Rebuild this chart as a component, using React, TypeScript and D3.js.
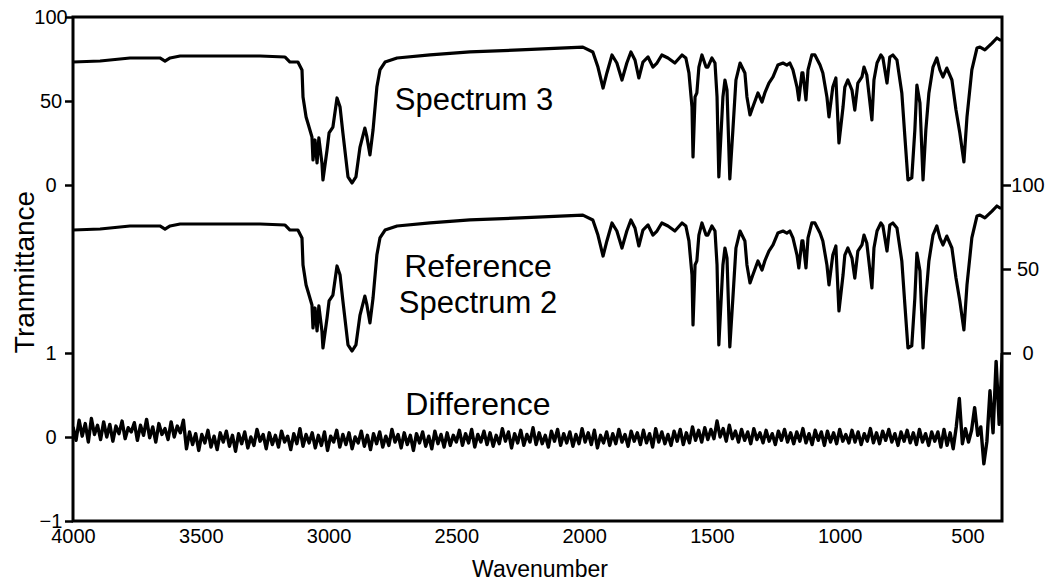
import * as d3 from "d3";
import { useEffect, useRef } from "react";

// wavenumber (cm-1) and transmittance
const wavenumbers = [
  4000, 3894, 3777, 3660, 3640, 3620, 3581, 3425, 3268, 3171, 3151, 3120, 3104, 3100, 3088, 3081,
  3065, 3061, 3053, 3045, 3038, 3026, 3022, 3006, 2998, 2983, 2967, 2955, 2944, 2924, 2908, 2893,
  2877, 2858, 2850, 2838, 2826, 2811, 2799, 2779, 2732, 2603, 2447, 2251, 2095, 2005, 1966, 1946,
  1926, 1911, 1891, 1872, 1852, 1833, 1817, 1801, 1786, 1770, 1750, 1731, 1715, 1696, 1672, 1645,
  1617, 1602, 1590, 1578, 1574, 1566, 1559, 1551, 1539, 1523, 1516, 1500, 1488, 1480, 1473, 1457,
  1449, 1441, 1430, 1418, 1406, 1390, 1371, 1363, 1351, 1340, 1320, 1304, 1293, 1277, 1261, 1242,
  1222, 1207, 1195, 1183, 1167, 1160, 1148, 1144, 1132, 1124, 1109, 1097, 1077, 1066, 1050, 1042,
  1027, 1015, 1003, 987, 980, 968, 952, 941, 929, 913, 905, 894, 874, 866, 854, 839,
  831, 815, 804, 792, 776, 757, 745, 733, 718, 706, 698, 686, 674, 663, 651, 635,
  620, 608, 596, 581, 561, 545, 530, 514, 502, 483, 463, 451, 432, 404, 385, 373, 365,
];

const spectrum3 = [
  73.2, 73.8, 75.6, 75.6, 73.8, 75.6, 76.8, 76.8, 76.8, 76.2, 73.2, 73.2, 68.5, 52.4, 40.5, 36.9,
  28.6, 14.9, 26.8, 13.1, 28.0, 13.1, 3.0, 20.8, 31.0, 34.5, 51.8, 46.4, 31.0, 4.8, 1.2, 4.8,
  22.6, 33.9, 28.6, 17.9, 32.7, 58.3, 68.5, 73.2, 75.6, 77.4, 79.2, 80.4, 81.5, 82.1, 79.2, 70.2,
  57.7, 66.7, 77.4, 72.6, 62.5, 72.6, 79.2, 74.4, 63.7, 73.2, 76.2, 70.2, 72.6, 77.4, 75.6, 72.6,
  77.4, 75.6, 66.7, 46.4, 16.7, 52.4, 54.8, 70.2, 77.4, 70.2, 70.2, 75.6, 72.6, 52.4, 4.8, 52.4,
  62.5, 56.5, 3.6, 32.7, 62.5, 72.6, 66.7, 52.4, 41.7, 46.4, 54.8, 49.4, 54.8, 60.7, 64.3, 71.4,
  72.6, 71.4, 72.6, 68.5, 58.3, 50.6, 66.7, 66.7, 50.6, 68.5, 77.4, 77.4, 71.4, 66.7, 52.4, 40.5,
  58.3, 63.7, 25.0, 46.4, 58.3, 62.5, 56.5, 44.6, 60.7, 64.3, 70.2, 65.5, 38.7, 62.5, 72.6, 77.4,
  75.6, 60.7, 76.2, 77.4, 74.4, 54.8, 28.6, 3.0, 4.2, 32.7, 59.5, 48.8, 3.0, 32.7, 54.8, 70.2,
  75.6, 68.5, 64.3, 69.6, 62.5, 44.6, 31.0, 13.7, 40.5, 68.5, 81.5, 82.1, 80.4, 84.5, 87.5, 86.3, 86.3,
];

// reference spectrum 2 is indistinguishable from spectrum 3
const reference2 = spectrum3.slice();

// difference spectrum, sampled from 4000 every 12 cm-1
const diffStart = 4000;
const diffStep = 12;
const difference = [
  // 4000 - 3568
  0.12, -0.04, 0.20, 0.01, 0.16, -0.06, 0.22, 0.03, 0.14, -0.03,
  0.18, 0.00, 0.15, -0.05, 0.13, 0.04, 0.19, -0.02, 0.11, 0.06,
  0.17, -0.04, 0.14, 0.02, 0.21, -0.01, 0.12, -0.06, 0.16, 0.03,
  0.10, -0.03, 0.18, 0.00, 0.13, 0.05, 0.20,
  // 3556 - 2500
  -0.14, 0.06, -0.09, 0.04, -0.16, 0.03, -0.07, 0.08, -0.12, 0.01,
  -0.15, 0.05, -0.06, 0.07, -0.11, 0.02, -0.17, 0.04, -0.08, 0.06,
  -0.13, 0.00, -0.10, 0.09, -0.05, 0.03, -0.14, 0.05, -0.09, 0.02,
  -0.12, 0.07, -0.06, 0.01, -0.15, 0.04, -0.08, 0.10, -0.11, 0.03,
  -0.07, 0.05, -0.13, 0.02, -0.10, 0.06, -0.16, 0.01, -0.06, 0.08,
  -0.12, 0.03, -0.09, 0.05, -0.14, 0.00, -0.07, 0.07, -0.11, 0.02,
  -0.15, 0.04, -0.08, 0.06, -0.12, 0.01, -0.10, 0.09, -0.06, 0.03,
  -0.13, 0.05, -0.09, 0.02, -0.16, 0.04, -0.07, 0.06, -0.11, 0.01,
  -0.14, 0.07, -0.08, 0.03, -0.12, 0.05, -0.10, 0.02, -0.06,
  // 2488 - 628
  0.08, -0.10, 0.04, -0.07, 0.09, -0.12, 0.03, -0.06, 0.07, -0.09,
  0.05, -0.11, 0.02, -0.08, 0.10, -0.05, 0.06, -0.13, 0.04, -0.07,
  0.08, -0.10, 0.03, -0.06, 0.11, -0.09, 0.05, -0.08, 0.02, -0.12,
  0.07, -0.05, 0.09, -0.10, 0.04, -0.07, 0.06, -0.11, 0.03, -0.08,
  0.10, -0.06, 0.05, -0.09, 0.08, -0.13, 0.02, -0.07, 0.06, -0.10,
  0.04, -0.08, 0.09, -0.06, 0.03, -0.11, 0.07, -0.05, 0.05, -0.09,
  0.08, -0.07, 0.04, -0.12, 0.10, -0.06, 0.06, -0.08, 0.03, -0.10,
  0.07, -0.05, 0.09, -0.09, 0.05, -0.07, 0.12, -0.04, 0.08, -0.06,
  0.11, -0.03, 0.09, -0.02, 0.19, 0.00, 0.10, -0.05, 0.14, -0.02,
  0.07, -0.06, 0.09, -0.04, 0.06, -0.08, 0.10, -0.03, 0.05, -0.07,
  0.08, -0.05, 0.04, -0.09, 0.07, -0.04, 0.09, -0.06, 0.05, -0.08,
  0.06, -0.05, 0.10, -0.07, 0.04, -0.09, 0.08, -0.04, 0.06, -0.10,
  0.07, -0.06, 0.05, -0.08, 0.09, -0.05, 0.03, -0.07, 0.08, -0.06,
  0.06, -0.09, 0.04, -0.05, 0.10, -0.07, 0.05, -0.08, 0.07, -0.04,
  0.09, -0.06, 0.04, -0.10, 0.06, -0.05, 0.08, -0.07, 0.05, -0.09,
  0.09, -0.06, 0.04, -0.10, 0.06, -0.05,
  // 616 - 364
  0.06, -0.12, 0.09, -0.10, 0.05, -0.14, 0.12, 0.46, -0.08, 0.10,
  -0.06, 0.08, 0.35, 0.02, 0.12, -0.32, -0.05, 0.55, 0.05, 0.90,
  0.15, 1.00,
];

const xTicks = [4000, 3500, 3000, 2500, 2000, 1500, 1000, 500];
const topTicks = [0, 50, 100];
const diffTicks = [-1, 0, 1];
const rightTicks = [0, 50, 100];

const W = 1045;
const H = 583;
const FONT = "'Liberation Sans', Arial, sans-serif";

const App = () => {
  const ref = useRef<SVGSVGElement>(null);

  useEffect(() => {
    const svg = d3.select(ref.current);
    svg.selectAll("*").remove();

    const left = 73, right = 1002, top = 17, bottom = 521;

    const x = d3.scaleLinear().domain([4000, 365]).range([left, right]);
    const yTop = d3.scaleLinear().domain([0, 100]).range([185, top]);
    const yRef = d3.scaleLinear().domain([0, 100]).range([353, 185]);
    const yDiff = d3.scaleLinear().domain([-1, 1]).range([bottom, 353]);

    svg.append("defs").append("clipPath").attr("id", "plot-clip")
      .append("rect").attr("x", left).attr("y", top).attr("width", right - left).attr("height", bottom - top);

    const g = svg.append("g").attr("clip-path", "url(#plot-clip)");

    // spectrum 3 (left scale, top)
    g.append("path")
      .datum(wavenumbers.map((w, i) => [w, spectrum3[i]]))
      .attr("fill", "none").attr("stroke", "#000").attr("stroke-width", 3.2)
      .attr("stroke-linejoin", "round")
      .attr("d", d3.line<number[]>().x((d) => x(d[0])).y((d) => yTop(d[1])));

    // reference spectrum 2 (right scale)
    g.append("path")
      .datum(wavenumbers.map((w, i) => [w, reference2[i]]))
      .attr("fill", "none").attr("stroke", "#000").attr("stroke-width", 3.2)
      .attr("stroke-linejoin", "round")
      .attr("d", d3.line<number[]>().x((d) => x(d[0])).y((d) => yRef(d[1])));

    // difference (left scale, bottom)
    g.append("path")
      .datum(difference.map((v, i) => [diffStart - i * diffStep, v]))
      .attr("fill", "none").attr("stroke", "#000").attr("stroke-width", 3.4)
      .attr("stroke-linejoin", "round")
      .attr("d", d3.line<number[]>().x((d) => x(d[0])).y((d) => yDiff(d[1])));

    // frame
    svg.append("rect")
      .attr("x", left).attr("y", top).attr("width", right - left).attr("height", bottom - top)
      .attr("fill", "none").attr("stroke", "#000").attr("stroke-width", 3);

    const styleAxis = (sel, dx) => {
      sel.select(".domain").remove();
      sel.selectAll("line").attr("stroke", "#000").attr("stroke-width", 2.5);
      sel.selectAll("text")
        .attr("x", dx).attr("text-anchor", "middle")
        .style("font-family", FONT).style("font-size", "20px").attr("fill", "#000");
    };

    svg.append("g").attr("transform", `translate(${left},0)`)
      .call(d3.axisLeft(yTop).tickValues(topTicks).tickSize(8).tickFormat(d3.format("d")))
      .call((s) => styleAxis(s, -22));

    svg.append("g").attr("transform", `translate(${left},0)`)
      .call(d3.axisLeft(yDiff).tickValues(diffTicks).tickSize(8).tickFormat(d3.format("d")))
      .call((s) => styleAxis(s, -22));

    svg.append("g").attr("transform", `translate(${right},0)`)
      .call(d3.axisRight(yRef).tickValues(rightTicks).tickSize(9).tickFormat(d3.format("d")))
      .call((s) => styleAxis(s, 26));

    const xAxis = svg.append("g").attr("transform", `translate(0,${bottom})`)
      .call(d3.axisBottom(x).tickValues(xTicks).tickSize(0).tickPadding(8).tickFormat(d3.format("d")));
    xAxis.select(".domain").remove();
    xAxis.selectAll("text").style("font-family", FONT).style("font-size", "20px").attr("fill", "#000");

    // labels
    const label = (txt, lx, ly, size) =>
      svg.append("text").attr("x", lx).attr("y", ly).attr("text-anchor", "middle")
        .style("font-family", FONT).style("font-size", `${size}px`).text(txt);

    label("Spectrum 3", 474, 110, 31);
    label("Reference", 478, 277, 32);
    label("Spectrum 2", 478, 313, 31);
    label("Difference", 478, 415, 32);
    label("Wavenumber", 540, 577, 23);

    svg.append("text")
      .attr("transform", "translate(34,272) rotate(-90)")
      .attr("text-anchor", "middle")
      .style("font-family", FONT).style("font-size", "28px")
      .text("Tranmittance");
  }, []);

  return (
    <svg
      ref={ref}
      width={W}
      height={H}
      style={{ position: "absolute", left: 0, top: 0, background: "#fff" }}
    />
  );
};

export default App;
